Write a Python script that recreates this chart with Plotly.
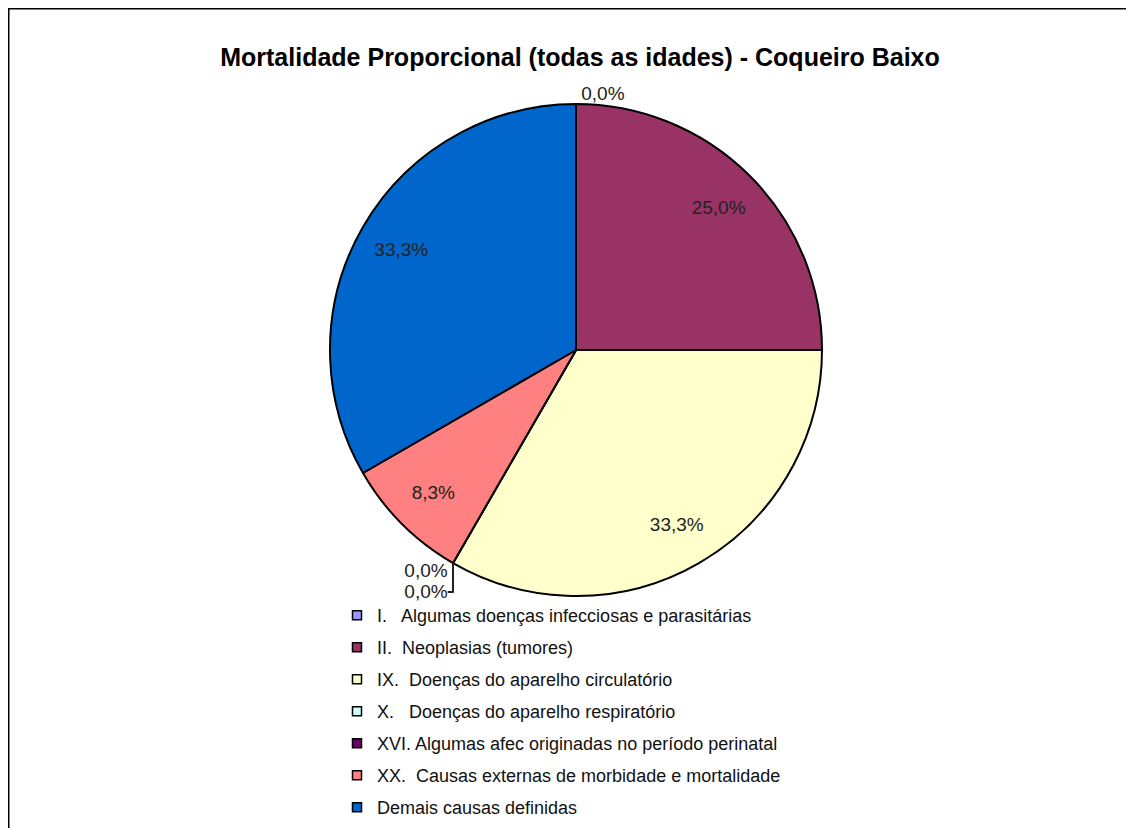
import plotly.graph_objects as go

categories = [
    "I.   Algumas doenças infecciosas e parasitárias",
    "II.  Neoplasias (tumores)",
    "IX.  Doenças do aparelho circulatório",
    "X.   Doenças do aparelho respiratório",
    "XVI. Algumas afec originadas no período perinatal",
    "XX.  Causas externas de morbidade e mortalidade",
    "Demais causas definidas",
]
deaths = [0, 3, 4, 0, 0, 1, 4]
colors = ["#9999FF", "#993366", "#FFFFCC", "#CCFFFF", "#660066", "#FF8080", "#0066CC"]

FONT = "Liberation Sans, Arial, sans-serif"
W, H = 1134, 828
pie_domain = dict(x=[322 / W, 814 / W], y=[1 - 588 / H, 1 - 96 / H])

fig = go.Figure()
# filled pie
fig.add_trace(go.Pie(
    labels=categories, values=deaths, sort=False,
    direction="clockwise", rotation=0,
    marker=dict(colors=colors, line=dict(color="#000000", width=2)),
    textinfo="none", showlegend=False,
    hoverinfo="label+value+percent",
    domain=pie_domain,
))
# transparent ring used only to place the percentage labels further out
fig.add_trace(go.Pie(
    labels=categories, values=deaths, sort=False,
    direction="clockwise", rotation=0, hole=0.64,
    marker=dict(colors=["rgba(0,0,0,0)"] * len(deaths), line=dict(width=0)),
    texttemplate="%{percent:.1%}",
    textposition=["outside" if v == 0 else "inside" for v in deaths],
    insidetextorientation="horizontal",
    textfont=dict(family=FONT, size=19, color="#222222"),
    outsidetextfont=dict(family=FONT, size=19, color="#222222"),
    showlegend=False, hoverinfo="skip",
    domain=pie_domain,
))

# legend entries (one per category)
for i, (c, col) in enumerate(zip(categories, colors)):
    fig.add_trace(go.Scatter(
        x=[None], y=[None], mode="markers", name=c,
        legendgroup=f"g{i}",
        marker=dict(symbol="square", size=9, color=col, line=dict(color="#000000", width=1.5)),
        showlegend=True, hoverinfo="skip",
    ))

fig.update_layout(
    width=W, height=H,
    margin=dict(l=0, r=0, t=0, b=0),
    paper_bgcolor="#FFFFFF", plot_bgcolor="#FFFFFF",
    separators=",.",
    title=dict(text="<b>Mortalidade Proporcional (todas as idades) - Coqueiro Baixo</b>",
               x=572 / W, xanchor="center", y=1 - 49 / H, yanchor="middle",
               font=dict(family=FONT, size=25, color="#000000")),
    xaxis=dict(visible=False), yaxis=dict(visible=False),
    legend=dict(x=329 / W, xanchor="left", y=1 - 589 / H, yanchor="top",
                tracegroupgap=5.6, font=dict(family=FONT, size=18, color="#111111"),
                bgcolor="rgba(0,0,0,0)", itemclick=False, itemdoubleclick=False),
    shapes=[
        dict(type="line", xref="paper", yref="paper", x0=0, x1=1, y0=1 - 0.75 / H, y1=1 - 0.75 / H,
             line=dict(color="#000000", width=1.5)),
        dict(type="line", xref="paper", yref="paper", x0=0.75 / W, x1=0.75 / W, y0=0, y1=1,
             line=dict(color="#000000", width=1.5)),
    ],
)

fig.write_html("out.html")
